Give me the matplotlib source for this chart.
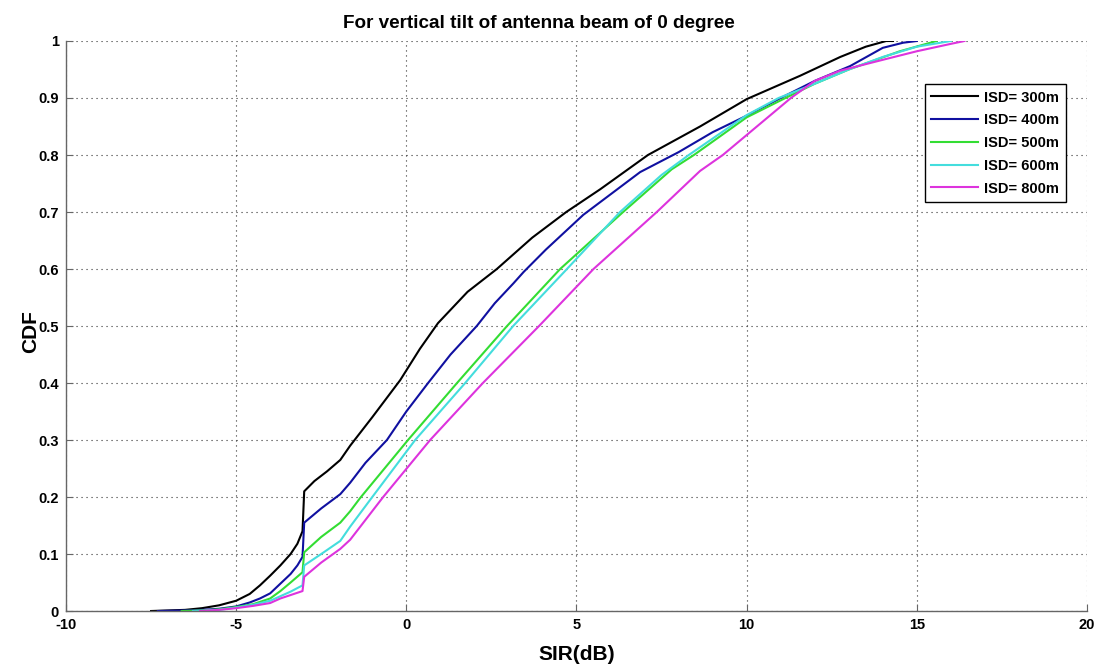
import numpy as np
import matplotlib
matplotlib.use("Agg")
import matplotlib.pyplot as plt

plt.rcParams["font.family"] = ["Liberation Sans", "DejaVu Sans"]
plt.rcParams["font.weight"] = "bold"
plt.rcParams["axes.unicode_minus"] = False

# CDF of SIR (x in dB, y = CDF)
x_300 = [-7.5, -7.0, -6.5, -6.0, -5.5, -5.0, -4.6, -4.3, -4.0, -3.7, -3.4, -3.2, -3.05, -3.0,
         -2.7, -2.33, -1.94, -1.65, -1.0, -0.18, 0.4, 0.93, 1.8, 2.66, 3.7, 4.7, 5.7, 7.1,
         8.63, 10.0, 11.57, 12.75, 13.5, 14.1, 14.3]
y_300 = [0.0, 0.001, 0.002, 0.005, 0.01, 0.018, 0.03, 0.045, 0.062, 0.08, 0.1, 0.118, 0.14, 0.21,
         0.228, 0.245, 0.265, 0.29, 0.34, 0.405, 0.46, 0.505, 0.56, 0.60, 0.655, 0.70, 0.74, 0.80,
         0.85, 0.898, 0.939, 0.972, 0.99, 1.0, 1.0]

x_400 = [-7.3, -6.5, -6.0, -5.5, -5.0, -4.6, -4.3, -4.0, -3.7, -3.4, -3.2, -3.05, -3.0,
         -2.5, -1.94, -1.65, -1.2, -0.57, 0.0, 0.64, 1.3, 2.07, 2.6, 3.15, 3.45, 4.1, 5.2,
         6.87, 8.0, 9.0, 10.0, 11.0, 12.0, 13.04, 14.0, 14.6, 15.0]
y_400 = [0.0, 0.001, 0.002, 0.004, 0.008, 0.015, 0.022, 0.031, 0.048, 0.065, 0.08, 0.095, 0.155,
         0.18, 0.205, 0.225, 0.26, 0.30, 0.35, 0.40, 0.45, 0.50, 0.54, 0.575, 0.595, 0.634, 0.695,
         0.77, 0.805, 0.84, 0.869, 0.90, 0.93, 0.956, 0.988, 0.997, 1.0]

x_500 = [-6.6, -6.0, -5.5, -5.0, -4.5, -4.0, -3.7, -3.4, -3.05, -3.0,
         -2.5, -1.94, -1.65, -1.36, 0.05, 1.49, 2.96, 4.52, 6.37, 7.8, 8.45, 10.0,
         11.14, 12.0, 13.0, 14.5, 15.58]
y_500 = [0.0, 0.001, 0.003, 0.007, 0.012, 0.022, 0.035, 0.05, 0.068, 0.103,
         0.13, 0.155, 0.175, 0.198, 0.3, 0.4, 0.5, 0.6, 0.7, 0.775, 0.80, 0.866,
         0.90, 0.925, 0.95, 0.982, 1.0]

x_600 = [-6.27, -5.5, -5.0, -4.5, -4.0, -3.7, -3.4, -3.05, -3.0,
         -2.5, -1.94, -1.65, -1.0, 0.26, 1.73, 3.14, 4.72, 6.28, 7.5, 8.3, 10.0,
         10.94, 12.0, 13.0, 14.0, 15.0, 16.0]
y_600 = [0.0, 0.002, 0.006, 0.011, 0.018, 0.026, 0.034, 0.045, 0.08,
         0.1, 0.123, 0.148, 0.2, 0.3, 0.4, 0.5, 0.6, 0.7, 0.765, 0.80, 0.87,
         0.90, 0.925, 0.95, 0.972, 0.99, 1.0]

x_800 = [-6.06, -5.5, -5.0, -4.5, -4.0, -3.7, -3.4, -3.05, -3.0,
         -2.5, -1.94, -1.65, -0.68, 0.7, 2.25, 3.9, 5.5, 7.36, 8.63, 9.3, 10.0,
         11.3, 12.0, 12.75, 14.0, 15.0, 16.0, 16.4]
y_800 = [0.0, 0.002, 0.005, 0.009, 0.014, 0.022, 0.028, 0.035, 0.06,
         0.085, 0.109, 0.125, 0.2, 0.3, 0.4, 0.5, 0.6, 0.7, 0.772, 0.80, 0.835,
         0.90, 0.93, 0.948, 0.967, 0.982, 0.995, 1.0]

labels = ["ISD= 300m", "ISD= 400m", "ISD= 500m", "ISD= 600m", "ISD= 800m"]
colors = ["#000000", "#1010a0", "#33dd33", "#44dddd", "#dd33dd"]

fig = plt.figure(figsize=(11.05, 6.71), dpi=100)
ax = fig.add_axes([0.0597, 0.0894, 0.924, 0.8495])

series = [(x_300, y_300), (x_400, y_400), (x_500, y_500), (x_600, y_600), (x_800, y_800)]
for (xs, ys), lab, c in zip(series, labels, colors):
    ax.plot(xs, ys, color=c, lw=1.5, label=lab)

ax.set_xlim(-10, 20)
ax.set_ylim(0, 1)
ax.set_xticks(np.arange(-10, 21, 5))
ax.set_yticks(np.arange(0, 1.01, 0.1))
ax.set_yticklabels(["0", "0.1", "0.2", "0.3", "0.4", "0.5", "0.6", "0.7", "0.8", "0.9", "1"])

ax.grid(True, color="#333333", linestyle=(0, (1, 3.5)), linewidth=0.8)
for s in ["top", "right"]:
    ax.spines[s].set_visible(False)
for s in ["left", "bottom"]:
    ax.spines[s].set_color("#666666")
    ax.spines[s].set_linewidth(1.0)
ax.tick_params(direction="in", length=5, color="#666666", labelsize=10.5, pad=5)
for t in ax.get_xticklabels() + ax.get_yticklabels():
    t.set_fontweight("bold")

ax.set_xlabel("SIR(dB)", fontsize=15, fontweight="bold")
ax.set_ylabel("CDF", fontsize=15, fontweight="bold")
ax.xaxis.set_label_coords(0.5, -0.059)
ax.yaxis.set_label_coords(-0.025, 0.49)
ax.set_title("For vertical tilt of antenna beam of 0 degree", fontsize=13.6, fontweight="bold",
             x=0.463, pad=9)

leg = ax.legend(loc="upper right", bbox_to_anchor=(0.979, 0.9246), borderaxespad=0,
                fancybox=False, framealpha=1, edgecolor="black", fontsize=10.5,
                handlelength=3.2, labelspacing=0.6, borderpad=0.45, handletextpad=0.4)
leg.get_frame().set_linewidth(1.0)
for t in leg.get_texts():
    t.set_fontweight("bold")

fig.savefig("out.png", dpi=100)
